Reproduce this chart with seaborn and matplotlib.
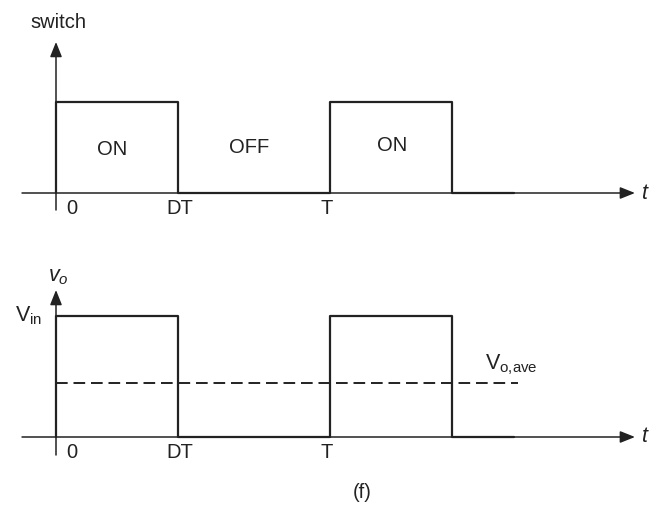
import matplotlib
matplotlib.use("Agg")
import matplotlib.pyplot as plt
import pandas as pd
import seaborn as sns

# ── Data ──────────────────────────────────────────────────────────
D = 0.445                      # duty ratio (DT as fraction of T)
t_end = 1.67                   # waveform drawn up to here
wave_t = [0, 0, D, D, 1, 1, 1 + D, 1 + D, t_end]
switch_level = [0, 1, 1, 0, 0, 1, 1, 0, 0]
vo_level = [0, 1, 1, 0, 0, 1, 1, 0, 0]
ave_t = [0, 1.686]
ave_level = [D, D]
tick_pos = [0.058, D + 0.008, 0.989]
tick_labels = ["0", "DT", "T"]
state_pos = [0.204, 0.704, 1.226]
state_y = [0.473, 0.495, 0.527]
state_labels = ["ON", "OFF", "ON"]

# ── Style ─────────────────────────────────────────────────────────
sns.set_theme(style="white")
plt.rcParams["font.family"] = ["Liberation Sans", "DejaVu Sans"]
plt.rcParams["mathtext.fontset"] = "custom"
plt.rcParams["mathtext.rm"] = "Liberation Sans"
plt.rcParams["mathtext.it"] = "Liberation Sans:italic"
ink = "#222222"
fs = 14.5

W, H = 653, 508
fig = plt.figure(figsize=(W / 100, H / 100), dpi=100)
xlim = (-56 / 274, (W - 56) / 274)

ax1 = fig.add_axes([0, 1 - 235 / H, 1, 235 / H])
ax1.set_xlim(xlim)
ax1.set_ylim(-(235 - 193) / 91, 193 / 91)
ax2 = fig.add_axes([0, 0, 1, (H - 235) / H])
ax2.set_xlim(xlim)
ax2.set_ylim(-(H - 437) / 121, (437 - 235) / 121)
for ax in (ax1, ax2):
    ax.axis("off")

arrow = dict(arrowstyle="-|>,head_length=0.75,head_width=0.3", lw=1.1,
             color=ink, shrinkA=0, shrinkB=0)


def draw_axes(ax, ytop, ybot):
    ax.annotate("", xy=(2.113, 0), xytext=(-0.124, 0), arrowprops=arrow)
    ax.annotate("", xy=(0, ytop), xytext=(0, ybot), arrowprops=arrow)
    ax.text(2.135, 0, "$t$", fontsize=fs + 1, ha="left", va="center", color=ink)
    for p, lab in zip(tick_pos, tick_labels):
        ax.text(p, ybot + 0.02, lab, fontsize=fs, ha="center", va="center", color=ink)


# ── Top: switch state ────────────────────────────────────────────
draw_axes(ax1, 1.66, -0.187)
sns.lineplot(x=wave_t, y=switch_level, ax=ax1, sort=False, estimator=None,
             color=ink, lw=1.6)
ax1.text(0.01, 1.87, "switch", fontsize=fs, ha="center", va="center", color=ink)
for p, y, lab in zip(state_pos, state_y, state_labels):
    ax1.text(p, y, lab, fontsize=fs, ha="center", va="center", color=ink)

# ── Bottom: output voltage ───────────────────────────────────────
draw_axes(ax2, 1.215, -0.149)
sns.lineplot(x=wave_t, y=vo_level, ax=ax2, sort=False, estimator=None,
             color=ink, lw=1.6)
sns.lineplot(x=ave_t, y=ave_level, ax=ax2, sort=False, estimator=None,
             color=ink, lw=1.4, dashes=False, linestyle=(0, (6, 3)))
ax2.text(0.01, 1.33, "$v_o$", fontsize=fs + 1, ha="center", va="center", color=ink)
ax2.text(-0.05, 1.0, r"$\mathrm{V_{in}}$", fontsize=fs + 1, ha="right", va="center", color=ink)
ax2.text(1.566, 0.60, r"$\mathrm{V_{o{,}ave}}$", fontsize=fs + 1, ha="left", va="center", color=ink)
ax2.text(1.117, -0.455, "(f)", fontsize=fs, ha="center", va="center", color=ink)

plt.savefig("out.png", dpi=100)
plt.close()
